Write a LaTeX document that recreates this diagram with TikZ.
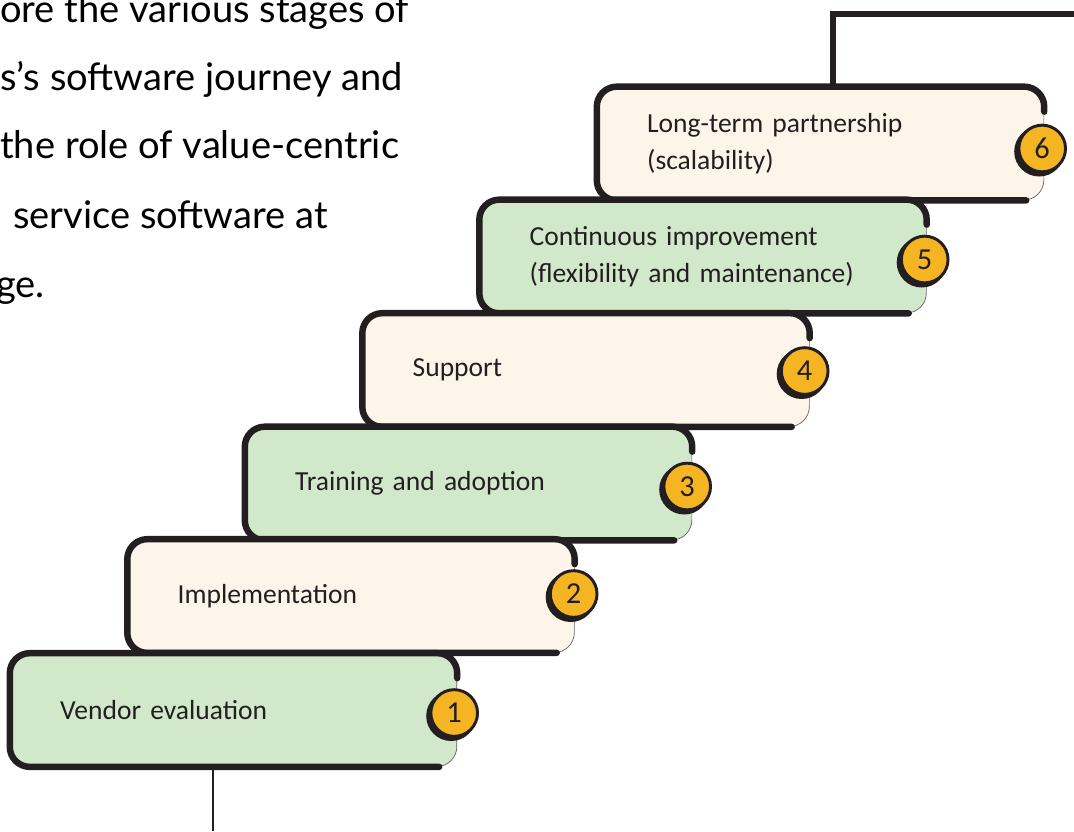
\documentclass[tikz,border=0pt]{standalone}
\usepackage{fontspec}
\setmainfont{Carlito}
\newfontfamily\introfont{Lato}
\usetikzlibrary{calc}

\definecolor{stepgreen}{HTML}{D1E8CB}
\definecolor{stepcream}{HTML}{FDF4EA}
\definecolor{dotyellow}{HTML}{F5B523}
\definecolor{inkblack}{HTML}{231F20}

\tikzset{
  stepbox/.style={draw=inkblack!70, line width=0.6pt, rounded corners=0.6cm,
    minimum height=3.39cm, text width=10.4cm, inner xsep=1.5cm, align=left,
    font=\fontsize{23.5}{31.5}\selectfont, text=inkblack},
  rim/.style={draw=inkblack, line width=5.5pt, rounded corners=0.6cm, line cap=round},
  numdot/.style={circle, draw=inkblack, line width=2.5pt, fill=dotyellow,
    minimum size=1.4cm, inner sep=0pt, font=\fontsize{26}{26}\selectfont, text=inkblack},
  intro/.style={anchor=base west, inner sep=0pt, text=black,
    font=\introfont\fontsize{32.5}{32.5}\selectfont},
  link/.style={draw=inkblack, line width=4.5pt}
}

\begin{document}
\begin{tikzpicture}[x=0.03cm, y=-0.03cm]
  \useasboundingbox (0,0) rectangle (1074,831);

  % Intro text (cut at the left)
  \node[intro] (intro1) at (0,22) {ore the various stages of};
  \node[intro] (intro2) at (0,90) {s’s software journey and};
  \node[intro] (intro3) at (0,158) {the role of value-centric};
  \node[intro] (intro4) at (13,228) {service software at};
  \node[intro] (intro5) at (-4,297) {ge.};

  % Steps, top to bottom
  \node[stepbox, fill=stepcream] (s6) at (820.5,143.5) {Long-term partnership\\(scalability)};
  \draw[rim] ($(s6.south east)+(-18,0)$) -- (s6.south west) -- (s6.north west)
     -- (s6.north east) -- ($(s6.north east)+(0,25)$);
  \node[stepbox, fill=stepgreen] (s5) at (703,256.5) {Continuous improvement\\(flexibility and maintenance)};
  \draw[rim] ($(s5.south east)+(-18,0)$) -- (s5.south west) -- (s5.north west)
     -- (s5.north east) -- ($(s5.north east)+(0,25)$);
  \node[stepbox, fill=stepcream] (s4) at (586,370) {Support};
  \draw[rim] ($(s4.south east)+(-18,0)$) -- (s4.south west) -- (s4.north west)
     -- (s4.north east) -- ($(s4.north east)+(0,25)$);
  \node[stepbox, fill=stepgreen] (s3) at (468.5,483.5) {Training and adoption};
  \draw[rim] ($(s3.south east)+(-18,0)$) -- (s3.south west) -- (s3.north west)
     -- (s3.north east) -- ($(s3.north east)+(0,25)$);
  \node[stepbox, fill=stepcream] (s2) at (351,596) {Implementation};
  \draw[rim] ($(s2.south east)+(-18,0)$) -- (s2.south west) -- (s2.north west)
     -- (s2.north east) -- ($(s2.north east)+(0,25)$);
  \node[stepbox, fill=stepgreen] (s1) at (233.5,710) {Vendor evaluation};
  \draw[rim] ($(s1.south east)+(-18,0)$) -- (s1.south west) -- (s1.north west)
     -- (s1.north east) -- ($(s1.north east)+(0,25)$);

  % Number dots
  \fill[inkblack] ($(s6.east)+(-5,8)$) circle (25);
  \node[numdot] (n6) at ($(s6.east)+(-2,5)$) {6};
  \fill[inkblack] ($(s5.east)+(-5,6)$) circle (25);
  \node[numdot] (n5) at ($(s5.east)+(-2,3)$) {5};
  \fill[inkblack] ($(s4.east)+(-8,4)$) circle (25);
  \node[numdot] (n4) at ($(s4.east)+(-5,1)$) {4};
  \fill[inkblack] ($(s3.east)+(-8,6)$) circle (25);
  \node[numdot] (n3) at ($(s3.east)+(-5,3)$) {3};
  \fill[inkblack] ($(s2.east)+(-4,1)$) circle (25);
  \node[numdot] (n2) at ($(s2.east)+(-1,-2)$) {2};
  \fill[inkblack] ($(s1.east)+(-6,6)$) circle (25);
  \node[numdot] (n1) at ($(s1.east)+(-3,3)$) {1};

  % Lines in and out
  \coordinate (topend) at (1074,14);
  \coordinate (topfoot) at (833,0);
  \draw[link] (topfoot |- s6.north) -- (topfoot |- topend) -- (topend);
  \coordinate (botend) at (213,831);
  \draw[link, line width=2.5pt] (botend |- s1.south) -- (botend);
\end{tikzpicture}
\end{document}
